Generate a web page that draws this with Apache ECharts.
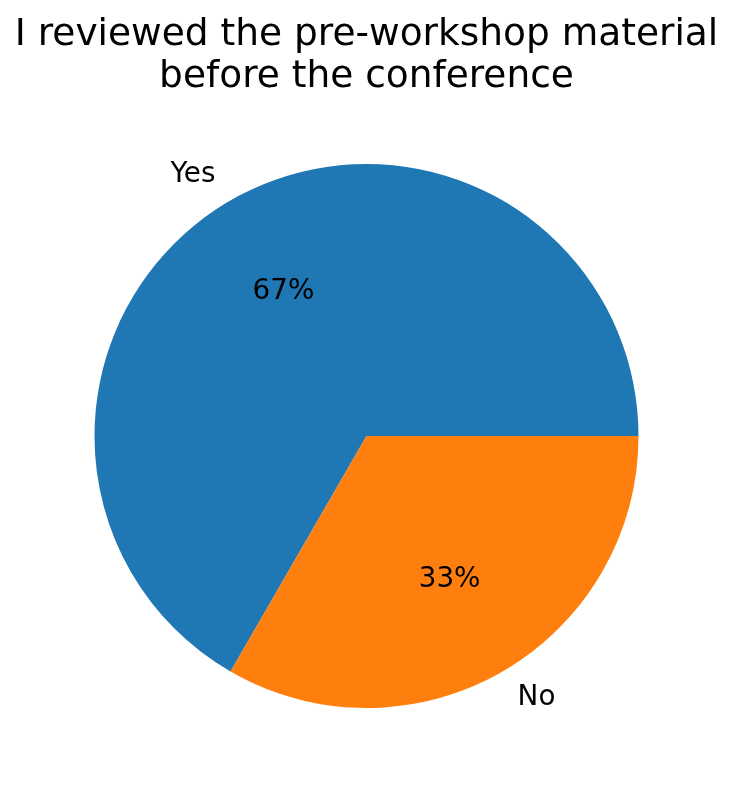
<!DOCTYPE html>
<html>
<head>
<meta charset="utf-8">
<script src="https://cdn.jsdelivr.net/npm/echarts@6/dist/echarts.min.js"></script>
<style>
html,body{margin:0;padding:0;background:#fff;}
#chart{width:733px;height:791px;}
</style>
</head>
<body>
<div id="chart"></div>
<script>
const categories = ['Yes', 'No'];
const values = [2, 1];
const colors = ['#1f77b4', '#ff7f0e'];
const titleText = 'I reviewed the pre-workshop material\nbefore the conference';

const FONT = 'DejaVu Sans';
const LABEL_SIZE = 27.8;
const center = [366.5, 436];
const R = 272;

// measure text widths so that outer labels can be right/left aligned at their anchor
const ctx = document.createElement('canvas').getContext('2d');
ctx.font = LABEL_SIZE + 'px "' + FONT + '"';
const textW = s => ctx.measureText(s).width;

const chart = echarts.init(document.getElementById('chart'), null, {renderer: 'canvas'});

const baseData = categories.map((c, i) => ({name: c, value: values[i], itemStyle: {color: colors[i]}}));
const pctData = categories.map((c, i) => ({name: c, value: values[i]}));
// name labels: left side right-aligned, right side left-aligned (as matplotlib does)
const nameData = categories.map((c, i) => {
  const w = textW(c);
  return {name: c, value: values[i],
    label: {padding: i === 0 ? [0, w, 4, 0] : [0, 0, 4, w]}};
});

const common = {
  type: 'pie', center: center, startAngle: 0, clockwise: false,
  avoidLabelOverlap: false, animation: false
};

chart.setOption({
  backgroundColor: '#ffffff',
  animation: false,
  title: {
    text: titleText, left: 'center', top: 9,
    textStyle: {fontFamily: FONT, fontSize: 37.5, fontWeight: 'normal', color: '#000', lineHeight: 42}
  },
  series: [
    Object.assign({}, common, {
      radius: [0, R], data: baseData, silent: true,
      label: {show: false}, labelLine: {show: false},
      emphasis: {disabled: true}
    }),
    Object.assign({}, common, {
      radius: [0, R * 1.2], data: pctData, silent: true,
      itemStyle: {color: 'rgba(0,0,0,0)'},
      label: {show: true, position: 'inside', fontFamily: FONT, fontSize: LABEL_SIZE, color: '#000',
        padding: [0, 0, 4, 0],
        formatter: p => Math.round(p.percent) + '%'},
      labelLine: {show: false}, emphasis: {disabled: true}
    }),
    Object.assign({}, common, {
      radius: [R, R * 1.2], data: nameData, silent: true,
      itemStyle: {color: 'rgba(0,0,0,0)'},
      label: {show: true, position: 'inside', fontFamily: FONT, fontSize: LABEL_SIZE, color: '#000',
        formatter: p => p.name},
      labelLine: {show: false}, emphasis: {disabled: true}
    })
  ]
});
</script>
</body>
</html>
